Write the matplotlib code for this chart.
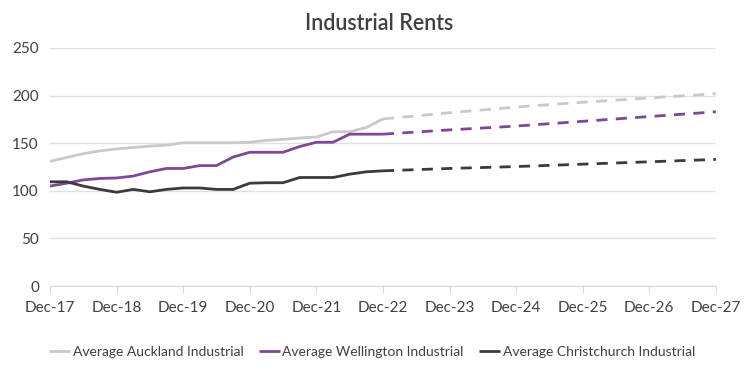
import numpy as np
import matplotlib
matplotlib.use("Agg")
import matplotlib.pyplot as plt

# quarterly actuals Dec-17 .. Dec-22 (21 points)
auckland = [131, 135, 139, 142, 144, 145.5, 147, 148, 150.5, 150.5, 150.5,
            150.5, 151, 153, 154, 155.5, 156.5, 162, 162, 166.5, 175.5]
wellington = [105, 108, 111.5, 113, 113.5, 115.5, 120, 123.5, 123.5, 126.5, 126.5,
              135.5, 140.5, 140.5, 140.5, 146.5, 151, 151, 159.5, 159.5, 159.5]
christchurch = [109.5, 109.5, 105, 101.5, 98.5, 101.5, 99, 101.5, 103, 103, 101.5,
                101.5, 108, 108.5, 108.5, 114, 114, 114, 117.5, 120, 121]

# annual forecasts Dec-22 .. Dec-27
auckland_fc = [175.5, 182, 188, 193, 197.5, 202]
wellington_fc = [159.5, 164, 168, 173, 178, 183]
christchurch_fc = [121, 123.5, 125.5, 128, 130.5, 133]

tick_labels = ["Dec-17", "Dec-18", "Dec-19", "Dec-20", "Dec-21", "Dec-22",
               "Dec-23", "Dec-24", "Dec-25", "Dec-26", "Dec-27"]
names = ["Average Auckland Industrial", "Average Wellington Industrial",
         "Average Christchurch Industrial"]
colors = ["#c9c9c9", "#7d4896", "#3b3b3f"]

plt.rcParams["font.family"] = ["Lato", "DejaVu Sans"]

x_act = np.arange(len(auckland)) / 4.0
x_fc = 5 + np.arange(len(auckland_fc))

fig = plt.figure(figsize=(7.44, 3.72), dpi=100)
ax = fig.add_axes([0.0672, 0.231, 0.895, 0.64])

for act, fc, name, c in zip([auckland, wellington, christchurch],
                            [auckland_fc, wellington_fc, christchurch_fc],
                            names, colors):
    ax.plot(x_act, act, color=c, lw=2, label=name, solid_capstyle="butt")
    ax.plot(x_fc, fc, color=c, lw=2, ls=(0, (4, 3)), dash_capstyle="butt")

ax.set_xlim(0, 10)
ax.set_ylim(0, 250)
ax.set_yticks(np.arange(0, 251, 50))
ax.set_xticks(np.arange(len(tick_labels)))
ax.set_xticklabels(tick_labels)
ax.grid(axis="y", color="#e1e1e1", lw=1)
ax.set_axisbelow(True)
for s in ["top", "right", "left"]:
    ax.spines[s].set_visible(False)
ax.spines["bottom"].set_color("#d9d9d9")
ax.tick_params(axis="y", length=0, labelsize=11, labelcolor="#404040", pad=8)
ax.tick_params(axis="x", length=5, color="#d9d9d9", labelsize=11,
               labelcolor="#404040", pad=6)

fig.suptitle("Industrial Rents", x=0.51, y=0.965, fontsize=15.5,
             color="#404040", fontweight="semibold")

fig.legend(loc="center", bbox_to_anchor=(0.5, 0.055), ncol=3, frameon=False,
           fontsize=10, labelcolor="#404040", handlelength=1.5,
           handletextpad=0.2, columnspacing=1.1)

fig.savefig("out.png", dpi=100)
